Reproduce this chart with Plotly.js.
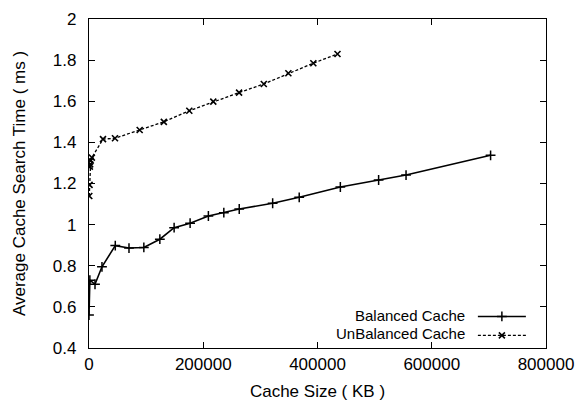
<!DOCTYPE html>
<html>
<head>
<meta charset="utf-8">
<script src="https://cdn.plot.ly/plotly-3.0.1.min.js"></script>
<style>html,body{margin:0;padding:0;background:#fff;}#chart{width:578px;height:401px;}</style>
</head>
<body>
<div id="chart"></div>
<script>
const balancedX = [0, 1500, 10500, 22700, 46000, 70000, 96000, 124000, 149000, 177000, 209000, 236000, 263000, 321500, 368000, 440000, 507000, 555000, 703000];
const balancedY = [0.56, 0.73, 0.71, 0.795, 0.898, 0.886, 0.889, 0.929, 0.985, 1.007, 1.042, 1.058, 1.076, 1.104, 1.133, 1.183, 1.217, 1.241, 1.337];
const unbalancedX = [500, 1000, 1500, 2000, 3000, 5000, 24500, 45500, 88700, 131000, 175600, 217600, 262700, 306000, 349000, 392700, 435000];
const unbalancedY = [1.139, 1.193, 1.282, 1.293, 1.311, 1.326, 1.416, 1.42, 1.46, 1.50, 1.554, 1.598, 1.642, 1.684, 1.736, 1.785, 1.83];
const seriesNames = ["Balanced Cache", "UnBalanced Cache"];
const xTicks = [0, 200000, 400000, 600000, 800000];
const yTicks = [0.4, 0.6, 0.8, 1, 1.2, 1.4, 1.6, 1.8, 2];

const font = {family: "Liberation Sans, Arial, sans-serif", size: 17, color: "#000"};
const legendFont = {family: font.family, size: 15, color: "#000"};
const traces = [
  {x: balancedX, y: balancedY, mode: "lines+markers", name: " ", showlegend: true,
   line: {color: "#000", width: 1.6},
   marker: {symbol: "cross-thin-open", size: 7, color: "#000", line: {color: "#000", width: 1.5}}},
  {x: unbalancedX, y: unbalancedY, mode: "lines+markers", name: " ", showlegend: true,
   line: {color: "#000", width: 1.3, dash: "3px,2px"},
   marker: {symbol: "x-thin-open", size: 6, color: "#000", line: {color: "#000", width: 1.6}}}
];
const axisCommon = {showgrid: false, zeroline: false, showline: true, linecolor: "#000", linewidth: 1.2,
  mirror: "allticks", ticks: "inside", ticklen: 6, tickcolor: "#000", tickfont: font};
const layout = {
  width: 578, height: 401,
  margin: {l: 89, r: 32, t: 19, b: 53},
  paper_bgcolor: "#fff", plot_bgcolor: "#fff",
  font: font,
  showlegend: true,
  legend: {x: 0.84, y: 0.14, xanchor: "left", yanchor: "top", bgcolor: "rgba(0,0,0,0)",
    font: {family: font.family, size: 10}, tracegroupgap: 0, itemwidth: 48},
  xaxis: Object.assign({}, axisCommon, {range: [0, 800000], tickvals: xTicks, ticktext: xTicks.map(String),
    ticklabelstandoff: 0, title: {text: "Cache Size ( KB )", font: font, standoff: 13}}),
  yaxis: Object.assign({}, axisCommon, {range: [0.4, 2], tickvals: yTicks, ticktext: yTicks.map(String),
    ticklabelstandoff: 8, title: {text: "Average Cache Search Time ( ms )", font: font, standoff: 22}}),
  annotations: [
    {xref: "paper", yref: "paper", x: 0.825, y: 0.099, xanchor: "right", yanchor: "middle", text: seriesNames[0], showarrow: false, font: legendFont, borderpad: 0},
    {xref: "paper", yref: "paper", x: 0.825, y: 0.043, xanchor: "right", yanchor: "middle", text: seriesNames[1], showarrow: false, font: legendFont, borderpad: 0}
  ]
};
Plotly.newPlot("chart", traces, layout, {displayModeBar: false, staticPlot: true});
</script>
</body>
</html>
